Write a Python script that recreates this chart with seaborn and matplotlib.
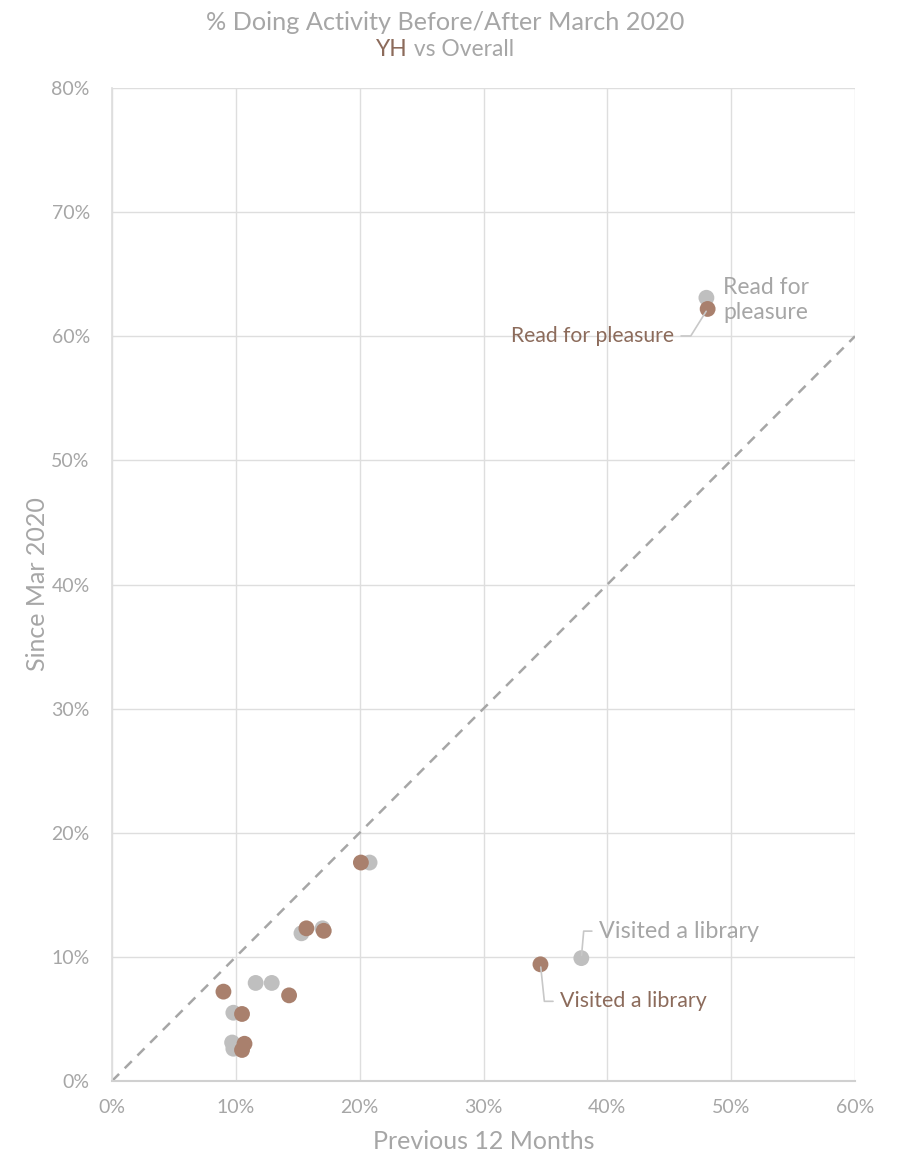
import matplotlib
matplotlib.use("Agg")
import matplotlib.pyplot as plt
from matplotlib.ticker import FuncFormatter, MultipleLocator
import numpy as np
import pandas as pd
import seaborn as sns

# Share of people doing each activity (in %), previous 12 months vs since March 2020
overall_prev = [48.0, 37.9, 20.8, 15.3, 17.0, 11.6, 12.9, 9.8, 9.7, 9.8]
overall_since = [63.1, 9.9, 17.6, 11.9, 12.3, 7.9, 7.9, 5.5, 3.1, 2.6]
yh_prev = [48.1, 34.6, 20.1, 15.7, 17.1, 9.0, 14.3, 10.5, 10.7, 10.5]
yh_since = [62.2, 9.4, 17.6, 12.3, 12.1, 7.2, 6.9, 5.4, 3.0, 2.5]
activity = ["Read for pleasure", "Visited a library", "", "", "", "", "", "", "", ""]
groups = ["Overall", "YH"]

GREY_PT = "#bfbfbf"
BROWN_PT = "#a9806d"
GREY_TXT = "#a6a6a6"
BROWN_TXT = "#8c6b5b"
GRID = "#dedede"

df = pd.concat([
    pd.DataFrame({"prev": overall_prev, "since": overall_since,
                  "group": groups[0], "activity": activity}),
    pd.DataFrame({"prev": yh_prev, "since": yh_since,
                  "group": groups[1], "activity": activity}),
], ignore_index=True)

sns.set_theme(style="white")
plt.rcParams["font.family"] = ["Lato", "DejaVu Sans"]

fig = plt.figure(figsize=(9.02, 11.55), dpi=100)
ax = fig.add_axes([112 / 902, 1 - 1081 / 1155, (855 - 112) / 902, (1081 - 88) / 1155])

# parity reference line
ax.plot([0, 60], [0, 60], ls=(0, (4, 3.2)), color="#a6a6a6", lw=1.8, zorder=1)

sns.scatterplot(data=df, x="prev", y="since", hue="group",
                palette={"Overall": GREY_PT, "YH": BROWN_PT},
                s=130, edgecolor="none", legend=False, ax=ax, zorder=3)

ax.set_xlim(0, 60)
ax.set_ylim(0, 80)
ax.xaxis.set_major_locator(MultipleLocator(10))
ax.yaxis.set_major_locator(MultipleLocator(10))
pct = FuncFormatter(lambda v, _: f"{v:.0f}%")
ax.xaxis.set_major_formatter(pct)
ax.yaxis.set_major_formatter(pct)
ax.grid(True, color=GRID, lw=1)
ax.set_axisbelow(True)
for side in ["top", "right"]:
    ax.spines[side].set_visible(False)
ax.spines["left"].set_color(GRID)
ax.spines["bottom"].set_color("#d0d0d0")
ax.spines["bottom"].set_linewidth(1.5)
ax.tick_params(axis="both", colors=GREY_TXT, labelsize=14, length=0)
ax.tick_params(axis="x", pad=13)
ax.tick_params(axis="y", pad=16)

ax.set_xlabel("Previous 12 Months", color=GREY_TXT, fontsize=18, labelpad=10)
ax.set_ylabel("Since Mar 2020", color=GREY_TXT, fontsize=18, labelpad=2)

lead = dict(arrowstyle="-", color="#c8c8c8", lw=1.2, shrinkA=3, shrinkB=2)

# Read for pleasure labels
i = 0
ax.annotate(activity[i].replace(" for ", " for\n"), xy=(overall_prev[i], overall_since[i]),
            xytext=(17, -2), textcoords="offset pixels", ha="left", va="center",
            color=GREY_TXT, fontsize=16.5, linespacing=1.25)
ax.annotate(activity[i], xy=(yh_prev[i], yh_since[i]),
            xytext=(-34, -27), textcoords="offset pixels", ha="right", va="center",
            color=BROWN_TXT, fontsize=15.2,
            arrowprops=dict(lead, relpos=(1, 0.5),
                            connectionstyle="angle,angleA=0,angleB=58,rad=0"))

# Visited a library labels
i = 1
ax.annotate(activity[i], xy=(overall_prev[i], overall_since[i]),
            xytext=(18, 27), textcoords="offset pixels", ha="left", va="center",
            color=GREY_TXT, fontsize=16.8,
            arrowprops=dict(lead, relpos=(0, 0.5),
                            connectionstyle="angle,angleA=0,angleB=85,rad=0"))
ax.annotate(activity[i], xy=(yh_prev[i], yh_since[i]),
            xytext=(20, -37), textcoords="offset pixels", ha="left", va="center",
            color=BROWN_TXT, fontsize=15.4,
            arrowprops=dict(lead, relpos=(0, 0.5),
                            connectionstyle="angle,angleA=0,angleB=-84,rad=0"))

# Titles
cx = 445 / 902
fig.text(cx, 1 - 22 / 1155, "% Doing Activity Before/After March 2020",
         ha="center", va="center", color=GREY_TXT, fontsize=18.2)

fig.canvas.draw()
r = fig.canvas.get_renderer()
t_a = fig.text(0, 1 - 50 / 1155, "YH", ha="left", va="center", color=BROWN_TXT, fontsize=16.4)
t_b = fig.text(0, 1 - 50 / 1155, " vs Overall", ha="left", va="center", color=GREY_TXT, fontsize=16.4)
wa = t_a.get_window_extent(r).width
wb = t_b.get_window_extent(r).width
x0 = cx * 902 - (wa + wb) / 2
t_a.set_x(x0 / 902)
t_b.set_x((x0 + wa) / 902)

fig.savefig("out.png", dpi=100)
